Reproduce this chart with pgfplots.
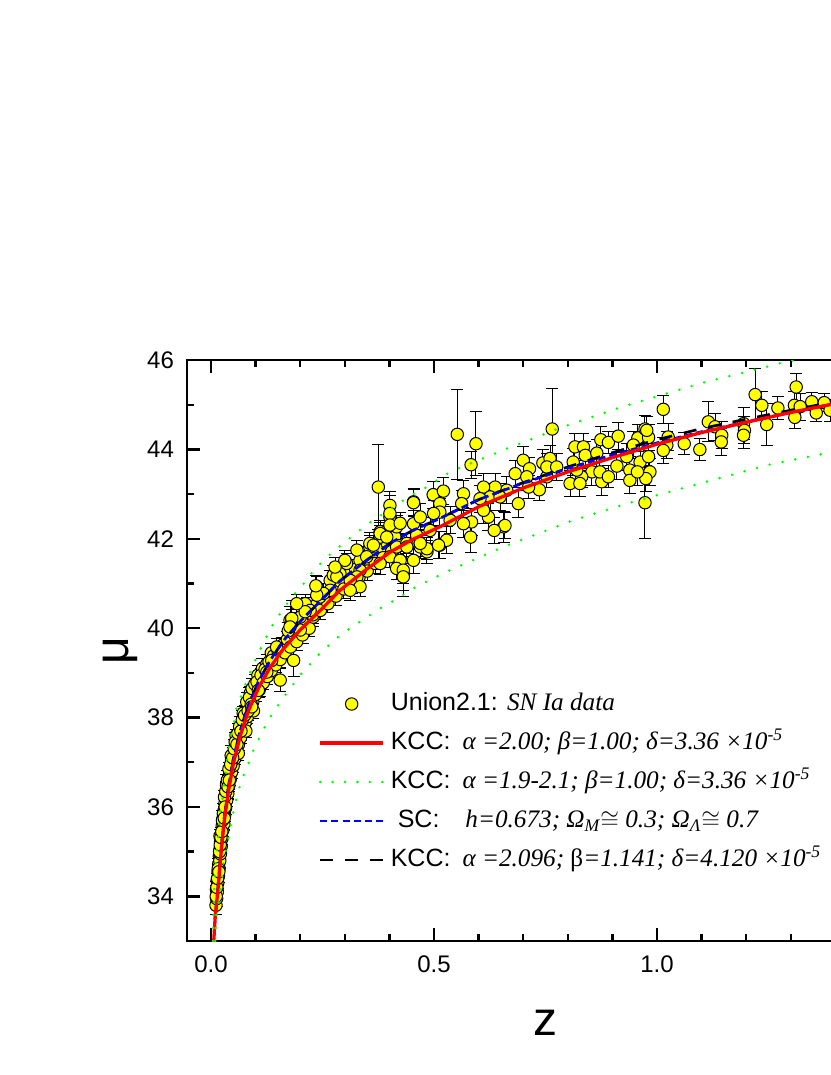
\documentclass[border=0pt]{standalone}
\usepackage{pgfplots}
\pgfplotsset{compat=1.18}
\usepackage{fontspec}
\setmainfont{Liberation Sans}
\newfontfamily\tnr{Liberation Serif}
\definecolor{kccred}{RGB}{255,0,0}
\definecolor{kccgreen}{RGB}{0,255,0}
\definecolor{scblue}{RGB}{0,0,255}
\definecolor{snyellow}{RGB}{255,255,0}
\newcommand{\lsans}{\fontsize{12.5}{15}\selectfont}
\newcommand{\lser}{\tnr\itshape\fontsize{12.6}{15}\selectfont}

\pgfplotstableread{
z mu e
0.0110 33.80 0.20
0.0125 33.95 0.18
0.0120 34.15 0.18
0.0140 34.10 0.17
0.0135 34.35 0.17
0.0150 34.30 0.16
0.0155 34.55 0.16
0.0165 34.45 0.16
0.0170 34.72 0.15
0.0180 34.62 0.15
0.0185 34.90 0.15
0.0195 34.80 0.15
0.0200 35.05 0.15
0.0210 34.95 0.15
0.0215 35.22 0.14
0.0228 35.12 0.14
0.0232 35.40 0.14
0.0245 35.30 0.14
0.0250 35.58 0.14
0.0262 35.48 0.14
0.0270 35.75 0.14
0.0285 35.62 0.14
0.0290 35.92 0.14
0.0305 35.82 0.14
0.0310 36.08 0.14
0.0325 35.98 0.14
0.0335 36.25 0.14
0.0350 36.15 0.14
0.0360 36.40 0.14
0.0375 36.30 0.14
0.0385 36.58 0.14
0.0400 36.48 0.14
0.0415 36.72 0.14
0.0430 36.62 0.14
0.0445 36.88 0.14
0.0460 36.78 0.14
0.0475 37.02 0.14
0.0495 36.92 0.14
0.0510 37.18 0.14
0.0530 37.08 0.14
0.0550 37.35 0.14
0.0570 37.25 0.14
0.0590 37.50 0.14
0.0615 37.40 0.14
0.0635 37.66 0.14
0.0660 37.55 0.14
0.0685 37.82 0.14
0.0710 37.72 0.14
0.0735 37.98 0.14
0.0760 37.88 0.14
0.0790 38.12 0.15
0.0815 38.02 0.15
0.0845 38.30 0.15
0.0870 38.20 0.15
0.0905 38.45 0.15
0.0935 38.35 0.15
0.0965 38.62 0.15
0.1000 38.52 0.15
0.0200 35.35 0.15
0.0300 36.22 0.14
0.0400 36.85 0.14
0.0560 37.60 0.14
0.0720 38.10 0.15
0.0880 38.55 0.15
0.0460 37.05 0.14
0.0610 37.20 0.15
0.0780 37.70 0.15
0.0950 38.15 0.16
0.0115 34.00 0.25
0.0130 34.20 0.25
0.0145 34.40 0.22
0.0160 34.62 0.22
0.0175 34.55 0.25
0.0190 35.00 0.22
0.0205 35.15 0.22
0.0220 35.32 0.22
0.0240 35.45 0.22
0.0255 35.70 0.22
0.0275 35.85 0.22
0.0295 35.75 0.25
0.0315 36.00 0.22
0.0330 36.35 0.22
0.0345 36.50 0.22
0.0365 36.60 0.22
0.0380 36.45 0.25
0.0410 36.60 0.22
0.0440 36.95 0.22
0.0450 37.15 0.22
0.0485 37.10 0.22
0.0520 37.30 0.22
0.0540 37.45 0.22
0.0580 37.40 0.22
0.0600 37.65 0.22
0.0640 37.80 0.22
0.0670 37.70 0.22
0.0700 37.95 0.22
0.0750 38.05 0.22
0.0800 38.35 0.22
0.0830 38.15 0.22
0.0860 38.45 0.22
0.0900 38.30 0.22
0.0920 38.65 0.22
0.0980 38.75 0.22
0.1050 38.95 0.22
0.1100 38.70 0.22
0.1150 39.10 0.22
0.1250 39.20 0.22
0.1350 39.45 0.22
0.103 38.80 0.16
0.108 38.62 0.16
0.112 38.95 0.16
0.117 38.78 0.16
0.121 39.08 0.16
0.126 38.92 0.17
0.130 39.25 0.17
0.135 39.05 0.17
0.140 39.38 0.17
0.145 39.18 0.17
0.150 39.50 0.17
0.155 39.30 0.18
0.160 39.62 0.18
0.166 39.45 0.18
0.171 39.75 0.18
0.178 39.58 0.18
0.185 39.88 0.18
0.192 39.70 0.19
0.198 40.02 0.19
0.205 39.85 0.19
0.212 40.15 0.19
0.220 40.00 0.19
0.177 40.18 0.30
0.173 39.94 0.20
0.147 39.58 0.20
0.136 39.28 0.18
0.125 39.02 0.18
0.106 38.61 0.17
0.091 38.24 0.16
0.215 40.48 0.20
0.229 40.25 0.20
0.200 39.96 0.20
0.185 39.28 0.35
0.155 38.84 0.25
0.228 40.30 0.20
0.236 40.52 0.20
0.245 40.40 0.20
0.255 40.68 0.20
0.262 40.55 0.20
0.272 40.90 0.20
0.280 40.72 0.20
0.290 41.05 0.22
0.298 40.88 0.22
0.306 41.20 0.22
0.315 41.00 0.22
0.324 41.32 0.22
0.332 41.15 0.22
0.342 41.48 0.22
0.350 41.28 0.22
0.360 41.62 0.22
0.368 41.45 0.22
0.378 41.75 0.22
0.386 41.58 0.22
0.395 41.90 0.24
0.405 41.72 0.24
0.412 42.05 0.24
0.420 41.85 0.24
0.181 40.18 0.45
0.211 40.55 0.20
0.282 41.22 0.25
0.304 41.45 0.22
0.431 41.22 0.50
0.513 41.86 0.30
0.484 41.71 0.25
0.401 41.60 0.25
0.379 42.04 0.25
0.416 42.27 0.25
0.244 40.70 0.22
0.267 41.07 0.22
0.222 40.40 0.20
0.200 40.25 0.20
0.237 40.93 0.22
0.334 41.52 0.22
0.356 41.82 0.25
0.379 41.45 0.25
0.274 41.19 0.22
0.300 41.52 0.22
0.327 41.75 0.22
0.356 41.90 0.25
0.379 42.16 0.25
0.401 42.49 0.30
0.401 42.75 0.30
0.375 43.16 0.95
0.401 42.57 0.40
0.454 42.83 0.30
0.499 42.98 0.30
0.379 42.12 0.25
0.401 42.31 0.25
0.424 42.35 0.25
0.364 41.86 0.22
0.394 42.04 0.22
0.416 41.82 0.22
0.439 41.90 0.22
0.461 42.08 0.25
0.469 41.82 0.25
0.484 41.78 0.25
0.424 41.52 0.25
0.416 41.34 0.25
0.349 41.60 0.22
0.334 41.30 0.22
0.327 41.15 0.22
0.289 41.22 0.22
0.312 41.07 0.22
0.334 40.93 0.22
0.312 40.85 0.22
0.267 40.85 0.22
0.282 41.15 0.22
0.252 40.78 0.22
0.237 40.74 0.22
0.211 40.37 0.20
0.192 40.55 0.20
0.181 40.22 0.20
0.177 40.03 0.20
0.235 40.95 0.22
0.278 41.37 0.22
0.552 44.34 1.00
0.594 44.13 0.72
0.765 44.46 0.90
0.583 43.66 0.30
0.498 42.99 0.30
0.521 43.07 0.30
0.454 42.81 0.30
0.700 43.76 0.30
0.682 43.46 0.30
0.714 43.57 0.25
0.744 43.70 0.30
0.760 43.80 0.30
0.816 44.06 0.30
0.835 44.06 0.30
0.874 44.22 0.30
0.891 44.16 0.25
0.913 44.30 0.30
0.957 44.26 0.30
0.973 44.46 0.30
0.981 44.27 0.30
1.014 44.90 0.32
1.025 44.28 0.30
1.022 44.10 0.30
1.014 43.98 0.30
1.061 44.13 0.25
1.096 44.00 0.25
1.115 44.62 0.45
1.130 44.51 0.30
1.145 44.32 0.30
1.144 44.17 0.30
1.194 44.58 0.35
1.196 44.43 0.30
1.194 44.32 0.30
1.220 45.23 0.58
1.235 44.99 0.30
1.246 44.56 0.46
1.271 44.93 0.25
1.312 45.40 0.30
1.308 44.99 0.30
1.309 44.72 0.25
1.321 44.96 0.30
1.347 45.07 0.20
1.357 44.82 0.20
1.375 45.05 0.20
1.388 44.88 0.25
0.973 42.81 0.80
0.910 43.63 0.30
0.939 43.54 0.30
0.939 43.31 0.30
0.962 43.72 0.30
0.981 43.84 0.30
0.984 43.50 0.30
0.975 43.35 0.30
0.956 43.50 0.30
0.932 43.84 0.30
0.876 43.28 0.30
0.854 43.50 0.30
0.872 43.50 0.30
0.891 43.39 0.25
0.831 43.39 0.25
0.820 43.54 0.25
0.839 43.87 0.30
0.865 43.92 0.30
0.753 43.39 0.25
0.736 43.10 0.25
0.712 43.16 0.25
0.663 43.09 0.30
0.637 43.16 0.30
0.611 43.16 0.30
0.626 42.94 0.30
0.648 42.94 0.30
0.656 42.27 0.35
0.659 42.30 0.30
0.635 42.19 0.30
0.582 42.04 0.35
0.584 42.38 0.30
0.566 42.34 0.30
0.622 42.49 0.30
0.603 42.90 0.30
0.566 43.01 0.30
0.562 42.79 0.30
0.611 42.64 0.30
0.536 42.42 0.30
0.513 42.79 0.30
0.513 42.60 0.30
0.528 41.97 0.30
0.510 41.86 0.30
0.469 41.90 0.30
0.454 41.52 0.30
0.431 41.30 0.30
0.431 41.15 0.30
0.439 41.82 0.30
0.454 42.34 0.30
0.469 42.49 0.30
0.491 42.19 0.30
0.499 42.57 0.30
0.689 42.79 0.30
0.708 43.39 0.30
0.753 43.61 0.30
0.775 43.61 0.30
0.805 43.24 0.30
0.827 43.24 0.30
0.812 43.72 0.30
0.977 44.43 0.30
0.947 44.10 0.30
}\sndata

\pgfplotstableread{
z mu
0.0060 33.00
0.0090 33.50
0.0164 34.25
0.0217 34.90
0.0291 35.65
0.0389 36.35
0.0501 36.98
0.0650 37.58
0.0837 38.15
0.1061 38.66
0.1323 39.12
0.1622 39.54
0.1996 39.96
0.2500 40.45
0.2890 40.85
0.3500 41.33
0.4010 41.70
0.4500 41.98
0.5130 42.27
0.6000 42.72
0.7000 43.14
0.8000 43.50
0.9000 43.82
1.0000 44.12
1.1000 44.38
1.2000 44.61
1.3000 44.83
1.4000 45.03
1.5000 45.22
}\redcurve

\pgfplotstableread{
z mu
0.0042 33.00
0.0055 33.60
0.0070 34.10
0.0090 34.49
0.0112 34.82
0.0142 35.16
0.0179 35.52
0.0202 35.85
0.0254 36.17
0.0291 36.49
0.0336 36.84
0.0366 37.16
0.0426 37.51
0.0501 37.83
0.0561 38.18
0.0673 38.48
0.0785 38.78
0.0912 39.10
0.1046 39.41
0.1173 39.67
0.1323 39.98
0.1495 40.25
0.1659 40.49
0.1846 40.74
0.2070 40.99
0.2257 41.24
0.2481 41.48
0.2743 41.72
0.3004 41.93
0.3251 42.13
0.3490 42.32
0.3751 42.49
0.4013 42.66
0.4290 42.85
0.4536 43.00
0.4836 43.16
0.5360 43.50
0.6630 44.02
0.7900 44.51
0.9170 44.94
1.0100 45.22
1.1040 45.50
1.1940 45.72
1.2830 45.95
1.3500 46.10
}\greenup

\pgfplotstableread{
z mu
0.0095 33.00
0.0112 33.54
0.0164 33.80
0.0202 34.06
0.0240 34.40
0.0276 34.72
0.0336 35.05
0.0410 35.40
0.0464 35.72
0.0538 36.06
0.0612 36.37
0.0711 36.67
0.0837 36.97
0.0949 37.27
0.1099 37.58
0.1248 37.88
0.1413 38.15
0.1585 38.40
0.1787 38.67
0.1996 38.95
0.2450 39.45
0.2890 39.84
0.3190 40.05
0.3450 40.22
0.3710 40.40
0.3980 40.55
0.4238 40.70
0.4536 40.89
0.4760 41.01
0.5360 41.30
0.6550 41.82
0.8124 42.42
0.9390 42.81
1.0960 43.24
1.2460 43.65
1.3800 43.92
1.5000 44.18
}\greenlow

\pgfplotstableread{
z mu
0.0090 33.50
0.0164 34.32
0.0217 34.97
0.0291 35.72
0.0389 36.45
0.0501 37.08
0.0650 37.70
0.0837 38.28
0.1061 38.80
0.1323 39.28
0.1622 39.72
0.1996 40.15
0.2500 40.66
0.2890 41.06
0.3500 41.53
0.4010 41.90
0.4500 42.18
0.5130 42.46
0.6000 42.88
0.7000 43.25
0.8000 43.58
0.9000 43.88
1.0000 44.15
1.1000 44.40
1.2000 44.62
1.3000 44.83
1.4000 45.03
1.5000 45.22
}\bluecurve

\pgfplotstableread{
z mu
0.0090 33.50
0.0164 34.32
0.0217 34.97
0.0291 35.72
0.0389 36.45
0.0501 37.08
0.0650 37.70
0.0837 38.28
0.1061 38.80
0.1323 39.28
0.1622 39.72
0.1996 40.15
0.2500 40.66
0.2890 41.06
0.3500 41.53
0.4010 41.90
0.4500 42.18
0.5130 42.46
0.6000 42.88
0.7000 43.26
0.8000 43.61
0.9000 43.93
1.0000 44.22
1.1000 44.47
1.2000 44.68
1.3000 44.88
1.4000 45.07
1.5000 45.25
}\blackcurve

\begin{document}
\begin{tikzpicture}
\begin{axis}[
  scale only axis,
  width=346.5pt, height=290.4pt,
  xmin=-0.054, xmax=1.5, ymin=33, ymax=46,
  clip marker paths=true,
  axis line style={line width=1.3pt},
  xtick={0,0.5,1,1.5}, xticklabels={0.0,0.5,1.0,{}},
  ytick={34,36,38,40,42,44,46},
  minor x tick num=4, minor y tick num=1,
  tick align=inside, tick pos=both,
  xticklabel pos=left, yticklabel pos=left,
  major tick length=6.5pt, minor tick length=3.5pt,
  every tick/.style={black, line width=1.2pt},
  ticklabel style={font=\fontsize{12}{14}\selectfont},
  yticklabel style={xshift=-3pt},
  xticklabel style={yshift=-4pt},
  /pgf/number format/assume math mode=true,
  xlabel={z}, ylabel={μ},
  label style={font=\fontsize{24}{28}\selectfont},
  xlabel style={at={(axis description cs:0.5166,-0.1412)}, anchor=center},
  ylabel style={at={(axis description cs:-0.0967,0.5)}, anchor=center},
  legend image code/.code={\draw[#1] (0pt,0pt) -- (31.5pt,0pt);},
  legend cell align=left,
  legend style={draw=none, fill=none, inner sep=0pt, column sep=0pt, row sep=0pt,
    nodes={inner xsep=3pt, inner ysep=0pt, text height=13pt, text depth=6.5pt},
    at={(axis cs:0.240,38.75)}, anchor=north west},
]
\addplot[forget plot, only marks, mark=*, mark size=3.1pt,
  mark options={fill=snyellow, draw=black, line width=0.5pt},
  error bars/.cd, y dir=both, y explicit,
  error bar style={black, line width=0.5pt},
  error mark options={rotate=90, mark size=3pt, black, line width=0.5pt}]
  table[x=z, y=mu, y error=e] {\sndata};
\addplot[forget plot, black, line width=1.35pt, dash pattern=on 6.5pt off 6pt] table[x=z,y=mu] {\blackcurve};
\addplot[forget plot, scblue, line width=1.35pt, dash pattern=on 3.5pt off 2.1pt] table[x=z,y=mu] {\bluecurve};
\addplot[forget plot, kccred, line width=1.65pt] table[x=z,y=mu] {\redcurve};
\addplot[forget plot, kccgreen, line width=1.4pt, line cap=round, dash pattern=on 0pt off 6.5pt] table[x=z,y=mu] {\greenup};
\addplot[forget plot, kccgreen, line width=1.4pt, line cap=round, dash pattern=on 0pt off 6.5pt] table[x=z,y=mu] {\greenlow};

\addlegendimage{legend image code/.code={\draw[black, fill=snyellow, line width=0.5pt] (15.75pt,0pt) circle (3.1pt);}}
\addlegendentry{{\lsans Union2.1: }{\lser SN Ia data}}
\addlegendimage{kccred, line width=1.65pt}
\addlegendentry{{\lsans KCC:}\hspace{6pt}{\lser α =2.00; β=1.00; δ=3.36 ×10\textsuperscript{-5}}}
\addlegendimage{kccgreen, line width=1.4pt, line cap=round, dash pattern=on 0pt off 6.2pt}
\addlegendentry{{\lsans KCC:}\hspace{6pt}{\lser α =1.9-2.1; β=1.00; δ=3.36 ×10\textsuperscript{-5}}}
\addlegendimage{scblue, line width=1.35pt, dash pattern=on 3.5pt off 2.1pt}
\addlegendentry{\hspace{3.5pt}{\lsans SC:}\hspace{13pt}{\lser h=0.673; Ω\textsubscript{M}$\cong$ 0.3; Ω\textsubscript{Λ}$\cong$ 0.7}}
\addlegendimage{black, line width=1.35pt, dash pattern=on 6.5pt off 6pt}
\addlegendentry{{\lsans KCC:}\hspace{6pt}{\lser α =2.096; {\upshape β}=1.141; δ=4.120 ×10\textsuperscript{-5}}}
\end{axis}
\pgfresetboundingbox
\path[use as bounding box] (-93.5pt,-67pt) rectangle (321.5pt,470.5pt);
\end{tikzpicture}
\end{document}
